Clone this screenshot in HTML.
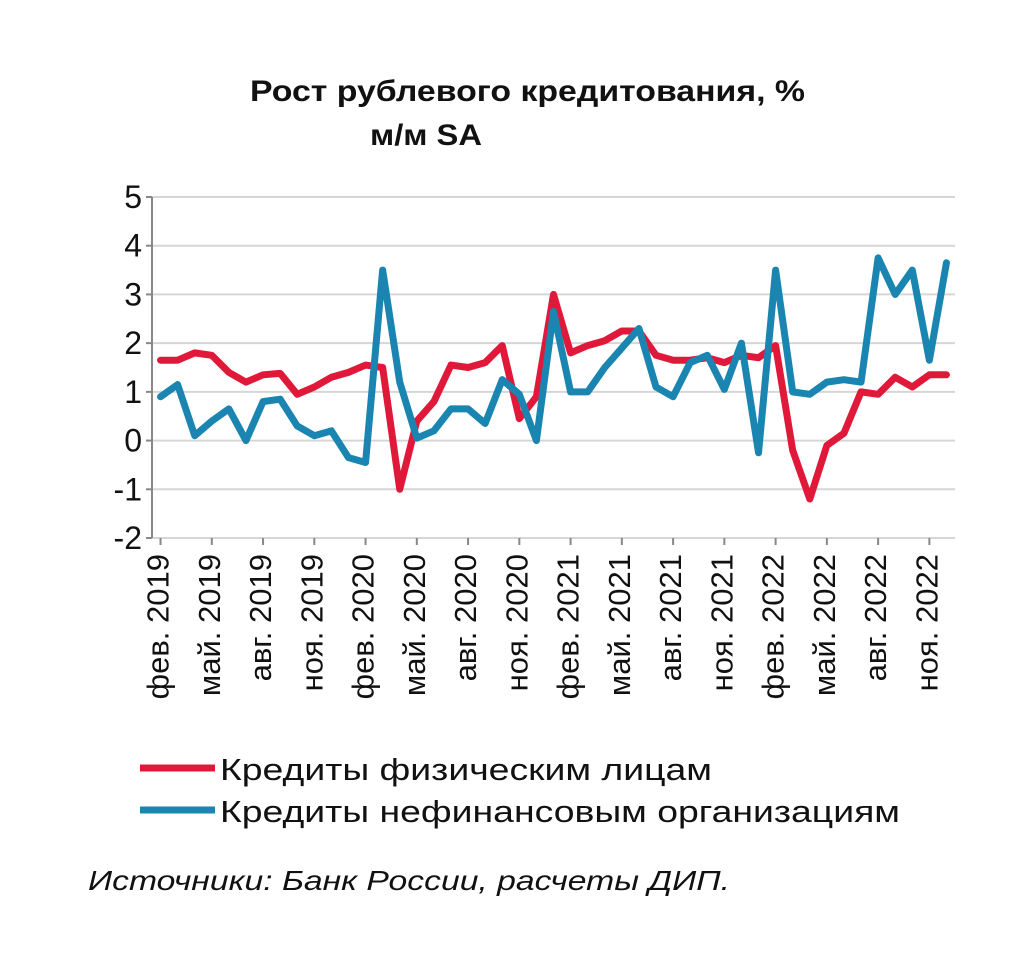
<!DOCTYPE html>
<html><head><meta charset="utf-8"><style>
body{margin:0;background:#fff;}
svg text{font-family:"Liberation Sans",sans-serif;fill:#111;}
</style></head><body>
<svg width="1024" height="975" viewBox="0 0 1024 975" xmlns="http://www.w3.org/2000/svg">
<text x="250" y="101" font-size="30" font-weight="bold" textLength="555" lengthAdjust="spacingAndGlyphs">Рост рублевого кредитования, %</text>
<text x="370" y="145" font-size="30" font-weight="bold" textLength="112" lengthAdjust="spacingAndGlyphs">м/м SA</text>
<g id="grid"></g><g id="yaxis"></g><g id="xaxis"></g><g id="series"></g>
<line x1="140" y1="768" x2="215" y2="768" stroke="#e0193a" stroke-width="7"/>
<text x="220" y="780" font-size="31" textLength="492" lengthAdjust="spacingAndGlyphs">Кредиты физическим лицам</text>
<line x1="140" y1="810" x2="215" y2="810" stroke="#1a85b0" stroke-width="7"/>
<text x="220" y="822" font-size="31" textLength="680" lengthAdjust="spacingAndGlyphs">Кредиты нефинансовым организациям</text>
<text x="88" y="890" font-size="28" font-style="italic" textLength="642" lengthAdjust="spacingAndGlyphs">Источники: Банк России, расчеты ДИП.</text>
</svg>
<script>
const monthLabels=["фев.","май.","авг.","ноя."];
const years=[2019,2020,2021,2022];
const yTicks=[5,4,3,2,1,0,-1,-2];
const households=[1.65,1.65,1.8,1.75,1.4,1.2,1.35,1.38,0.95,1.1,1.3,1.4,1.55,1.5,-1.0,0.4,0.8,1.55,1.5,1.6,1.95,0.45,0.9,3.0,1.8,1.95,2.05,2.25,2.25,1.75,1.65,1.65,1.7,1.6,1.75,1.7,1.95,-0.2,-1.2,-0.1,0.15,1.0,0.95,1.3,1.1,1.35,1.35];
const corporates=[0.9,1.15,0.1,0.4,0.65,0.0,0.8,0.85,0.3,0.1,0.2,-0.35,-0.45,3.5,1.2,0.05,0.2,0.65,0.65,0.35,1.25,0.95,0.0,2.65,1.0,1.0,1.5,1.9,2.3,1.1,0.9,1.6,1.75,1.05,2.0,-0.25,3.5,1.0,0.95,1.2,1.25,1.2,3.75,3.0,3.5,1.65,3.65];
const NS="http://www.w3.org/2000/svg";
const x0=152,x1=955,yTop=197,yBot=538,yMin=-2,yMax=5;
const n=households.length;
const step=(x1-x0)/n;
function xs(i){return x0+step*(i+0.5);}
function ys(v){return yBot-(v-yMin)/(yMax-yMin)*(yBot-yTop);}
function mk(tag,attrs,parent){const e=document.createElementNS(NS,tag);for(const k in attrs)e.setAttribute(k,attrs[k]);parent.appendChild(e);return e;}
const grid=document.getElementById('grid'),ya=document.getElementById('yaxis'),xa=document.getElementById('xaxis'),sr=document.getElementById('series');
yTicks.forEach(v=>{
  const g=mk('line',{x1:x0,x2:x1,y1:ys(v),y2:ys(v),stroke:'#d6d6d6','stroke-width':2},grid);
  
  
  const tk=mk('line',{x1:x0-6,x2:x0,y1:ys(v),y2:ys(v),stroke:'#888','stroke-width':2},ya);
  
  
  const t=mk('text',{x:x0-10,y:ys(v)+11,'text-anchor':'end','font-size':32},ya);
  t.textContent=v;
  
  
});
const ax=mk('line',{x1:x0,x2:x0,y1:yTop,y2:yBot,stroke:'#888','stroke-width':2},ya);


for(let i=0;i<n;i+=3){
  const yr=years[Math.floor((i+1)/12)];
  const lab=monthLabels[(i/3)%4]+" "+yr;
  const xx=xs(i);
  const tk=mk('line',{x1:xx,x2:xx,y1:yBot,y2:yBot+7,stroke:'#888','stroke-width':2},xa);
  
  
  const t=mk('text',{x:0,y:0,'text-anchor':'end','font-size':31,transform:`translate(${xx+8},${yBot+16}) rotate(-90)`},xa);
  t.textContent=lab;
  
  
}
function line(data,color,name){
  const p=mk('polyline',{points:data.map((v,i)=>xs(i)+','+ys(v)).join(' '),fill:'none',stroke:color,'stroke-width':7,'stroke-linejoin':'round','stroke-linecap':'round'},sr);
  
  
}
line(households,'#e0193a','households-line');
line(corporates,'#1a85b0','corporates-line');
</script>
</body></html>
